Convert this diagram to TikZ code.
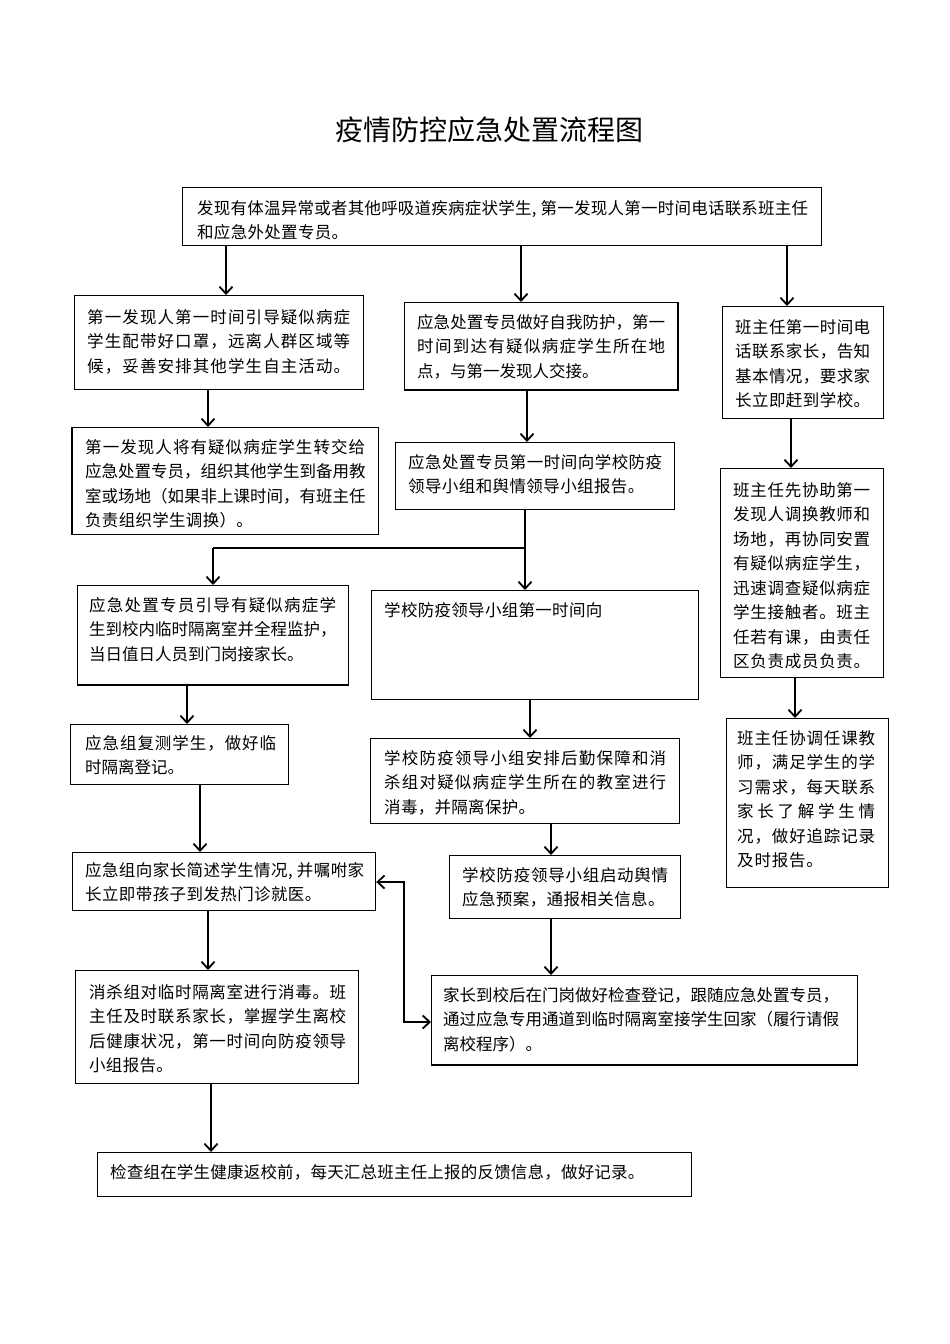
\documentclass[tikz,border=0pt]{standalone}
\usepackage{fontspec}
\usetikzlibrary{arrows.meta}
\newfontfamily\cjk{Noto Sans CJK SC}
\def\spA#1{#1\spB}
\def\spB#1{\ifx\relax#1\else\sepglue#1\expandafter\spB\fi}
\newcommand\Jl[2]{\hbox to #1pt{\def\sepglue{\hfil}\spA#2\relax}}
\newcommand\Nl[2]{\hbox{\def\sepglue{\kern#1pt}\spA#2\relax}}
\def\hc{,\kern4pt}
\tikzset{
  box/.style={draw=black, line width=1.2pt, inner sep=0pt, anchor=north west},
  txt/.style={inner sep=0pt, anchor=base west, font=\cjk\fontsize{16.5}{24.5}\selectfont},
  titlestyle/.style={inner sep=0pt, font=\cjk\fontsize{28}{34}\selectfont},
  arr/.style={line width=1.8pt, -{Straight Barb[length=7pt,width=13pt]}},
  darr/.style={line width=1.8pt, {Straight Barb[length=7pt,width=13pt]}-{Straight Barb[length=7pt,width=13pt]}},
  plain/.style={line width=1.8pt},
  thickedge/.style={line width=2.4pt, line cap=butt, line join=miter}
}
\newcommand\bx[5]{\node[box, minimum width={#4-#2}, minimum height={#5-#3}] (#1) at (#2,#3) {};}
\newcommand\tx[4]{\node[txt] (#1) at (#2,{#3+6.3}) {\vtop{\baselineskip=24.5pt\relax #4}};}
\begin{document}
\begin{tikzpicture}[x=1pt,y=-1pt]
\useasboundingbox (0,0) rectangle (950,1344);
\fill[white] (0,0) rectangle (950,1344);

\node[titlestyle] (title) at (489,130) {疫情防控应急处置流程图};

% boxes
\bx{top}{182}{187}{821}{245}
\bx{L1}{74}{295}{363}{389}
\bx{M1}{404}{302}{677}{389}
\bx{R1}{722}{306}{883}{418}
\bx{L2}{72}{427}{378}{534}
\bx{M2}{395}{442}{674}{509}
\bx{R2}{720}{468}{883}{677}
\bx{L3}{77}{585}{348}{684}
\bx{M3}{371}{590}{698}{699}
\bx{L4}{70}{724}{288}{784}
\bx{M4}{370}{738}{679}{823}
\bx{R3}{726}{718}{888}{887}
\bx{L5}{72}{852}{375}{910}
\bx{M5}{449}{855}{680}{918}
\bx{L6}{75}{970}{358}{1083}
\bx{M6}{431}{975}{857}{1064}
\bx{L7}{97}{1152}{691}{1196}

% heavier edges as in the reference
\draw[thickedge] (M1.north east) -- (M1.south east) -- (M1.south west);
\draw[thickedge] (L2.north west) -- (L2.south west);
\draw[thickedge] (L3.south west) -- (L3.south east);
\draw[thickedge] (M6.south west) -- (M6.south east);

% texts
\tx{topt}{197}{208}{\Jl{611}{发现有体温异常或者其他呼吸道疾病症状学生\hc 第一发现人第一时间电话联系班主任}\Nl{0.3}{和应急外处置专员。}}
\tx{L1t}{87}{317}{\Jl{263}{第一发现人第一时间引导疑似病症}\Jl{263}{学生配带好口罩，远离人群区域等}\Jl{263}{候，妥善安排其他学生自主活动。}}
\tx{M1t}{417}{322}{\Jl{248}{应急处置专员做好自我防护，第一}\Jl{248}{时间到达有疑似病症学生所在地}\Nl{0}{点，与第一发现人交接。}}
\tx{R1t}{735}{327}{\Jl{135}{班主任第一时间电}\Jl{135}{话联系家长，告知}\Jl{135}{基本情况，要求家}\Jl{135}{长立即赶到学校。}}
\tx{L2t}{85}{447}{\Jl{280}{第一发现人将有疑似病症学生转交给}\Jl{280}{应急处置专员，组织其他学生到备用教}\Jl{280}{室或场地（如果非上课时间，有班主任}\Nl{0.3}{负责组织学生调换）。}}
\tx{M2t}{408}{462}{\Jl{254}{应急处置专员第一时间向学校防疫}\Nl{0.4}{领导小组和舆情领导小组报告。}}
\tx{R2t}{733}{490}{\Jl{137}{班主任先协助第一}\Jl{137}{发现人调换教师和}\Jl{137}{场地，再协同安置}\Jl{137}{有疑似病症学生，}\Jl{137}{迅速调查疑似病症}\Jl{137}{学生接触者。班主}\Jl{137}{任若有课，由责任}\Jl{137}{区负责成员负责。}}
\tx{L3t}{89}{605}{\Jl{247}{应急处置专员引导有疑似病症学}\Jl{247}{生到校内临时隔离室并全程监护，}\Nl{0}{当日值日人员到门岗接家长。}}
\tx{M3t}{384}{610}{\Nl{0.3}{学校防疫领导小组第一时间向}}
\tx{L4t}{85}{743}{\Jl{191}{应急组复测学生，做好临}\Nl{0}{时隔离登记。}}
\tx{M4t}{384}{758}{\Jl{282}{学校防疫领导小组安排后勤保障和消}\Jl{282}{杀组对疑似病症学生所在的教室进行}\Nl{0.3}{消毒，并隔离保护。}}
\tx{R3t}{737}{738}{\Jl{138}{班主任协调任课教}\Jl{138}{师，满足学生的学}\Jl{138}{习需求，每天联系}\Jl{138}{家长了解学生情}\Jl{138}{况，做好追踪记录}\Nl{0.8}{及时报告。}}
\tx{L5t}{85}{870}{\Jl{279}{应急组向家长简述学生情况\hc 并嘱咐家}\Nl{0.4}{长立即带孩子到发热门诊就医。}}
\tx{M5t}{462}{875}{\Jl{206}{学校防疫领导小组启动舆情}\Nl{0.4}{应急预案，通报相关信息。}}
\tx{L6t}{89}{992}{\Jl{257}{消杀组对临时隔离室进行消毒。班}\Jl{257}{主任及时联系家长，掌握学生离校}\Jl{257}{后健康状况，第一时间向防疫领导}\Nl{0.3}{小组报告。}}
\tx{M6t}{443}{995}{\Jl{396}{家长到校后在门岗做好检查登记，跟随应急处置专员，}\Jl{396}{通过应急专用通道到临时隔离室接学生回家（履行请假}\Nl{0}{离校程序）。}}
\tx{L7t}{110}{1172}{\Nl{0.2}{检查组在学生健康返校前，每天汇总班主任上报的反馈信息，做好记录。}}

% connectors
\draw[arr] (top.south -| 226,0) -- (L1.north -| 226,0);
\draw[arr] (top.south -| 521,0) -- (M1.north -| 521,0);
\draw[arr] (top.south -| 787,0) -- (R1.north -| 787,0);
\draw[arr] (L1.south -| 208,0) -- (L2.north -| 208,0);
\draw[arr] (M1.south -| 527,0) -- (M2.north -| 527,0);
\draw[arr] (R1.south -| 791,0) -- (R2.north -| 791,0);
\coordinate (jn) at (525,548);
\coordinate (jl) at (213,548);
\draw[plain] (M2.south -| jn) -- (jn);
\draw[plain] (jn) -- (jl);
\draw[arr] (jl) -- (L3.north -| jl);
\draw[arr] (jn) -- (M3.north -| jn);
\draw[arr] (L3.south -| 187,0) -- (L4.north -| 187,0);
\draw[arr] (M3.south -| 530,0) -- (M4.north -| 530,0);
\draw[arr] (R2.south -| 795,0) -- (R3.north -| 795,0);
\draw[arr] (L4.south -| 200,0) -- (L5.north -| 200,0);
\draw[arr] (M4.south -| 551,0) -- (M5.north -| 551,0);
\draw[arr] (L5.south -| 208,0) -- (L6.north -| 208,0);
\draw[arr] (M5.south -| 551,0) -- (M6.north -| 551,0);
\draw[arr] (L6.south -| 211,0) -- (L7.north -| 211,0);
\coordinate (dk1) at (404,1022);
\coordinate (dk2) at (404,882);
\draw[darr] (M6.west |- dk1) -- (dk1) -- (dk2) -- (L5.east |- dk2);
\end{tikzpicture}
\end{document}
